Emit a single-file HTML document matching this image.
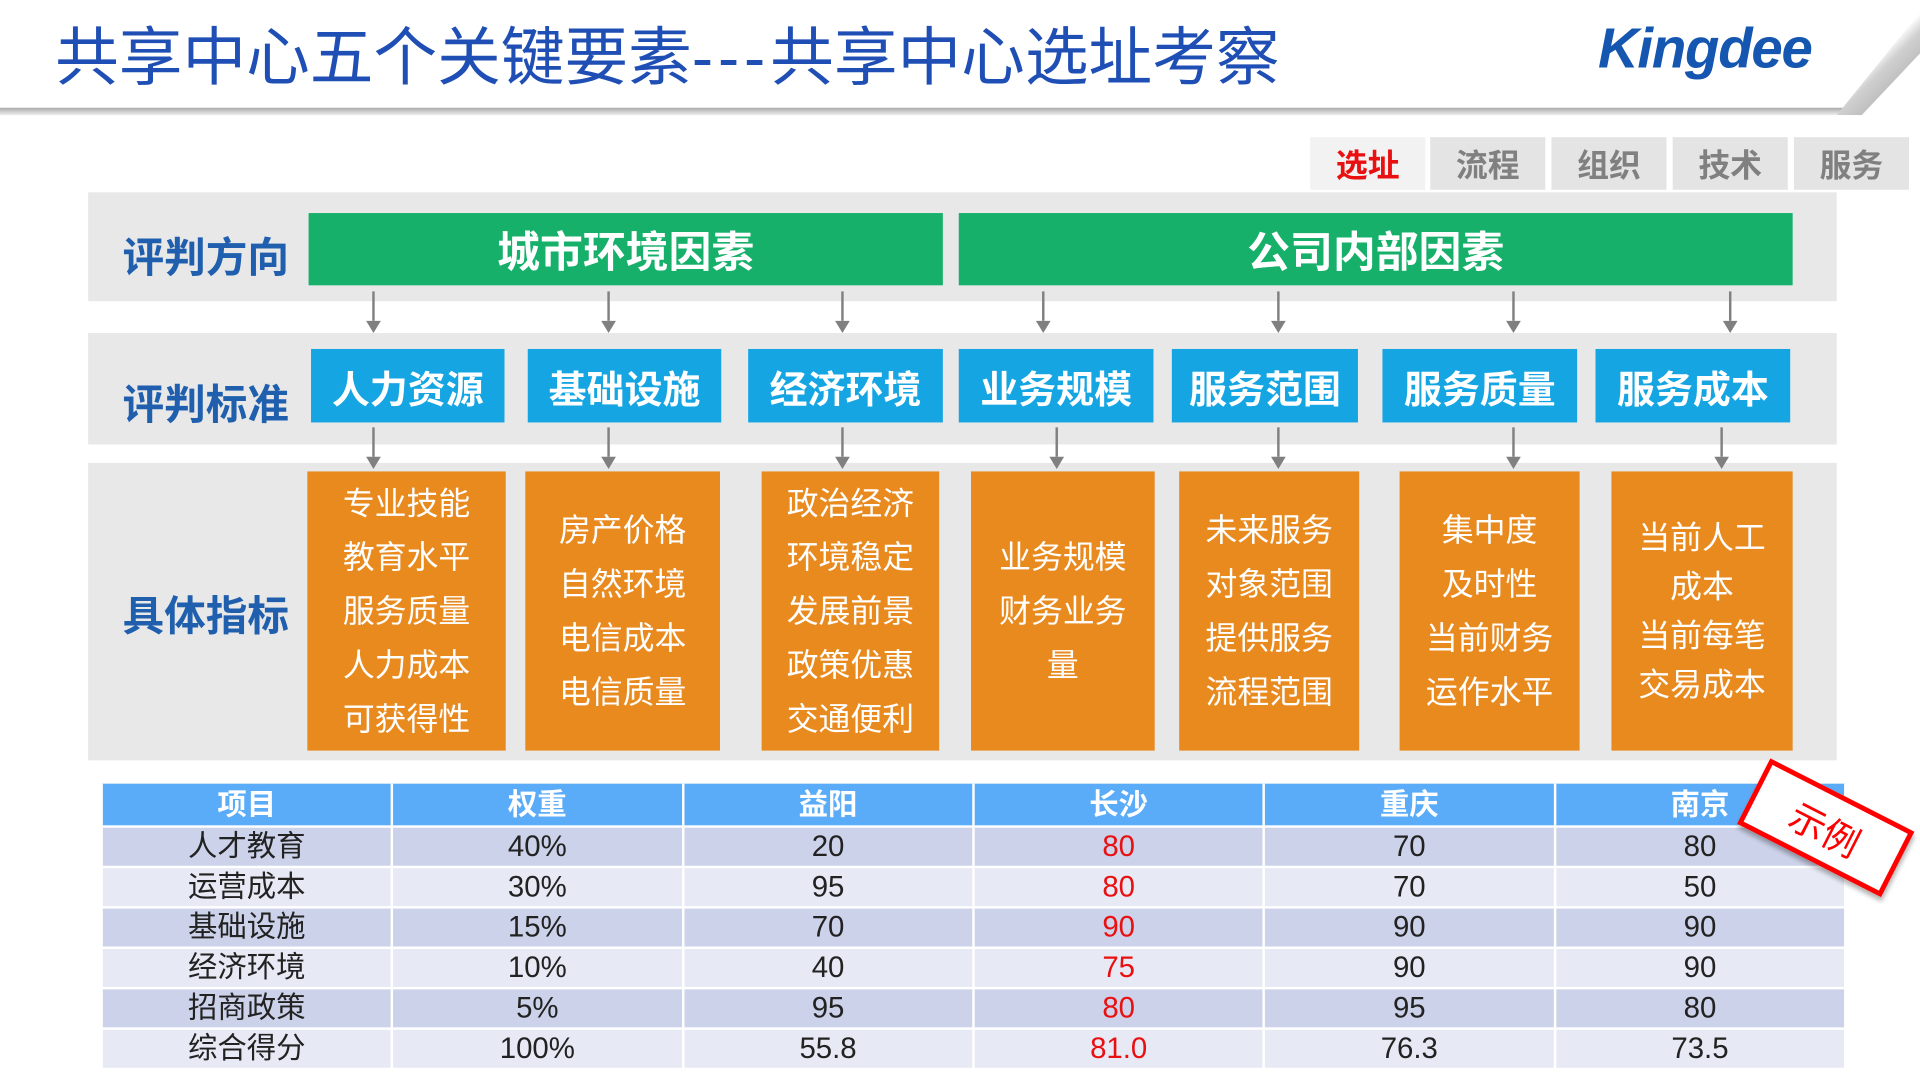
<!DOCTYPE html>
<html><head><meta charset="utf-8"><style>
html,body{margin:0;padding:0;width:1920px;height:1080px;overflow:hidden;background:#fff}
#w{position:absolute;left:0;top:0;width:1568px;height:882px;transform:scale(1.22449);transform-origin:0 0;font-family:"Liberation Sans","Noto Sans CJK SC",sans-serif}
.a{position:absolute}
.c{display:flex;align-items:center;justify-content:center;text-align:center}
.band{background:#e8e8e8}
.lab{color:#1f5fae;font-weight:bold;font-size:34px}
.g{background:#17b06a;color:#fff;font-weight:bold;font-size:35px}
.b{background:#15a5e3;color:#fff;font-weight:bold;font-size:31px;top:285px;height:60px}
.o{background:#e98a1f;color:#fff;font-size:26px;line-height:44px;top:385px;height:228px}
.tab{top:112px;height:43px;width:94px;background:#e4e4e4;color:#808080;font-weight:bold;font-size:26px}
.ar{width:2px;background:#808080}
.ah{width:0;height:0;border-left:6px solid transparent;border-right:6px solid transparent;border-top:10px solid #808080}
table{position:absolute;left:82px;top:640px;width:1426px;border-collapse:collapse;font-size:24px;color:#222}
td{text-align:center;height:31px;padding:0;border-left:2px solid #fff;border-right:2px solid #fff;border-bottom:2px solid #fff;width:238px;line-height:31px}
tr.h td{background:#5aabf8;color:#fff;font-weight:bold;height:34px}
tr.d td{background:#ccd2e9}
tr.l td{background:#e7eaf5}
.r{color:#e81010}
</style></head><body><div id="w">
<div class="a" style="left:45px;top:5px;font-size:52px;color:#1f4fb4;white-space:nowrap">共享中心五个关键要素<span style="letter-spacing:4px">---</span>共享中心选址考察</div>
<div class="a" style="left:1305px;top:12px;font-size:46px;color:#1556b0;font-weight:bold;font-style:italic;letter-spacing:-1px">Kingdee</div>
<div class="a" style="left:0;top:88px;width:1520px;height:6px;background:linear-gradient(#aaa,#eee)"></div>
<div class="a" style="left:1500px;top:10px;width:68px;height:84px;background:linear-gradient(135deg,#fff 45%,#d0d0d0 55%,#999 100%);clip-path:polygon(100% 0,100% 40%,30% 100%,0 100%)"></div>

<div class="a c tab" style="left:1070px;color:#e81010;background:#f2f2f2">选址</div>
<div class="a c tab" style="left:1168px">流程</div>
<div class="a c tab" style="left:1267px">组织</div>
<div class="a c tab" style="left:1366px">技术</div>
<div class="a c tab" style="left:1465px">服务</div>

<div class="a band" style="left:72px;top:157px;width:1428px;height:89px"></div>
<div class="a band" style="left:72px;top:272px;width:1428px;height:91px"></div>
<div class="a band" style="left:72px;top:378px;width:1428px;height:243px"></div>

<div class="a lab" style="left:100px;top:183px">评判方向</div>
<div class="a lab" style="left:100px;top:303px">评判标准</div>
<div class="a lab" style="left:100px;top:476px">具体指标</div>

<div class="a c g" style="left:252px;top:174px;width:518px;height:59px">城市环境因素</div>
<div class="a c g" style="left:783px;top:174px;width:681px;height:59px">公司内部因素</div>

<div class="a c b" style="left:254px;width:158px">人力资源</div>
<div class="a c b" style="left:431px;width:158px">基础设施</div>
<div class="a c b" style="left:611px;width:159px">经济环境</div>
<div class="a c b" style="left:783px;width:159px">业务规模</div>
<div class="a c b" style="left:957px;width:152px">服务范围</div>
<div class="a c b" style="left:1129px;width:159px">服务质量</div>
<div class="a c b" style="left:1303px;width:159px">服务成本</div>

<div class="a c o" style="left:251px;width:162px">专业技能<br>教育水平<br>服务质量<br>人力成本<br>可获得性</div>
<div class="a c o" style="left:429px;width:159px">房产价格<br>自然环境<br>电信成本<br>电信质量</div>
<div class="a c o" style="left:622px;width:145px">政治经济<br>环境稳定<br>发展前景<br>政策优惠<br>交通便利</div>
<div class="a c o" style="left:793px;width:150px">业务规模<br>财务业务<br>量</div>
<div class="a c o" style="left:963px;width:147px">未来服务<br>对象范围<br>提供服务<br>流程范围</div>
<div class="a c o" style="left:1143px;width:147px">集中度<br>及时性<br>当前财务<br>运作水平</div>
<div class="a c o" style="left:1316px;width:148px;line-height:40px">当前人工<br>成本<br>当前每笔<br>交易成本</div>

<div class="a ar" style="left:304px;top:238px;height:24px"></div><div class="a ah" style="left:299px;top:262px"></div>
<div class="a ar" style="left:496px;top:238px;height:24px"></div><div class="a ah" style="left:491px;top:262px"></div>
<div class="a ar" style="left:687px;top:238px;height:24px"></div><div class="a ah" style="left:682px;top:262px"></div>
<div class="a ar" style="left:851px;top:238px;height:24px"></div><div class="a ah" style="left:846px;top:262px"></div>
<div class="a ar" style="left:1043px;top:238px;height:24px"></div><div class="a ah" style="left:1038px;top:262px"></div>
<div class="a ar" style="left:1235px;top:238px;height:24px"></div><div class="a ah" style="left:1230px;top:262px"></div>
<div class="a ar" style="left:1412px;top:238px;height:24px"></div><div class="a ah" style="left:1407px;top:262px"></div>

<div class="a ar" style="left:304px;top:349px;height:24px"></div><div class="a ah" style="left:299px;top:373px"></div>
<div class="a ar" style="left:496px;top:349px;height:24px"></div><div class="a ah" style="left:491px;top:373px"></div>
<div class="a ar" style="left:687px;top:349px;height:24px"></div><div class="a ah" style="left:682px;top:373px"></div>
<div class="a ar" style="left:862px;top:349px;height:24px"></div><div class="a ah" style="left:857px;top:373px"></div>
<div class="a ar" style="left:1043px;top:349px;height:24px"></div><div class="a ah" style="left:1038px;top:373px"></div>
<div class="a ar" style="left:1235px;top:349px;height:24px"></div><div class="a ah" style="left:1230px;top:373px"></div>
<div class="a ar" style="left:1405px;top:349px;height:24px"></div><div class="a ah" style="left:1400px;top:373px"></div>

<table>
<tr class="h"><td>项目</td><td>权重</td><td>益阳</td><td>长沙</td><td>重庆</td><td>南京</td></tr>
<tr class="d"><td>人才教育</td><td>40%</td><td>20</td><td class="r">80</td><td>70</td><td>80</td></tr>
<tr class="l"><td>运营成本</td><td>30%</td><td>95</td><td class="r">80</td><td>70</td><td>50</td></tr>
<tr class="d"><td>基础设施</td><td>15%</td><td>70</td><td class="r">90</td><td>90</td><td>90</td></tr>
<tr class="l"><td>经济环境</td><td>10%</td><td>40</td><td class="r">75</td><td>90</td><td>90</td></tr>
<tr class="d"><td>招商政策</td><td>5%</td><td>95</td><td class="r">80</td><td>95</td><td>80</td></tr>
<tr class="l"><td>综合得分</td><td>100%</td><td>55.8</td><td class="r">81.0</td><td>76.3</td><td>73.5</td></tr>
</table>

<div class="a c" style="left:1425px;top:646px;width:124px;height:52px;background:#fff;border:4px solid #f00;color:#f00;font-size:30px;transform:rotate(27deg);box-shadow:2px 3px 4px rgba(0,0,0,.3)">示例</div>
</div></body></html>
